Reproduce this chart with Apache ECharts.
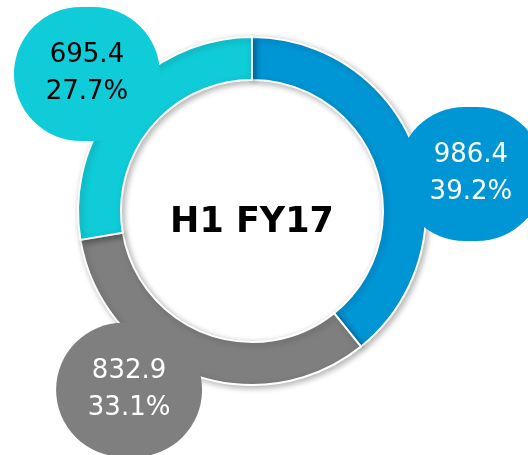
<!DOCTYPE html>
<html>
<head>
<meta charset="utf-8">
<script src="https://cdn.jsdelivr.net/npm/echarts@6/dist/echarts.min.js"></script>
<style>
html,body{margin:0;padding:0;background:#fff}
#main{width:528px;height:455px}
</style>
</head>
<body>
<div id="main"></div>
<script>
const names = ['Segment 1', 'Segment 2', 'Segment 3'];
const values = [986.4, 832.9, 695.4];
const centerText = 'H1 FY17';

const colors = ['#0096d6', '#7f7f7f', '#10ccd8'];
const textColors = ['#ffffff', '#ffffff', '#000000'];
// bubble placement: [angle clockwise from top (deg), distance from centre (px)]
const bubbleAt = [[80.4, 222], [214.5, 217], [309.7, 214.5]];

const cx = 252, cy = 211;
const font = 'DejaVu Sans';

let chart = echarts.init(document.getElementById('main'));

let data = values.map((v, i) => ({
    name: names[i],
    value: v,
    itemStyle: { color: colors[i] },
    label: { color: textColors[i], backgroundColor: colors[i] }
}));

let option = {
    animation: false,
    graphic: [{
        type: 'text',
        x: cx,
        y: cy + 12,
        z: 100,
        style: {
            text: centerText,
            fontFamily: font,
            fontWeight: 'bold',
            fontSize: 35,
            fill: '#000',
            textAlign: 'center',
            textVerticalAlign: 'middle'
        }
    }],
    series: [{
        type: 'pie',
        center: [cx, cy],
        radius: [131, 174],
        startAngle: 90,
        clockwise: true,
        percentPrecision: 1,
        avoidLabelOverlap: false,
        itemStyle: {
            borderColor: '#fff',
            borderWidth: 2,
            shadowBlur: 6,
            shadowOffsetX: 2,
            shadowOffsetY: 2,
            shadowColor: 'rgba(0,0,0,0.3)'
        },
        label: {
            show: true,
            position: 'inside',
            formatter: '{c}\n{d}%',
            fontFamily: font,
            fontWeight: 'normal',
            fontSize: 26,
            lineHeight: 37,
            width: 86,
            overflow: 'none',
            align: 'center',
            padding: [34, 30, 26, 30],
            borderRadius: 67
        },
        labelLine: { show: false },
        labelLayout: function (p) {
            let b = bubbleAt[p.dataIndex];
            let a = b[0] * Math.PI / 180;
            return {
                x: cx + b[1] * Math.sin(a),
                y: cy - b[1] * Math.cos(a),
                align: 'center',
                verticalAlign: 'middle'
            };
        },
        emphasis: { disabled: true },
        data: data
    }]
};

chart.setOption(option);
window.onresize = function () {
    chart.resize();
};
</script>
</body>
</html>
